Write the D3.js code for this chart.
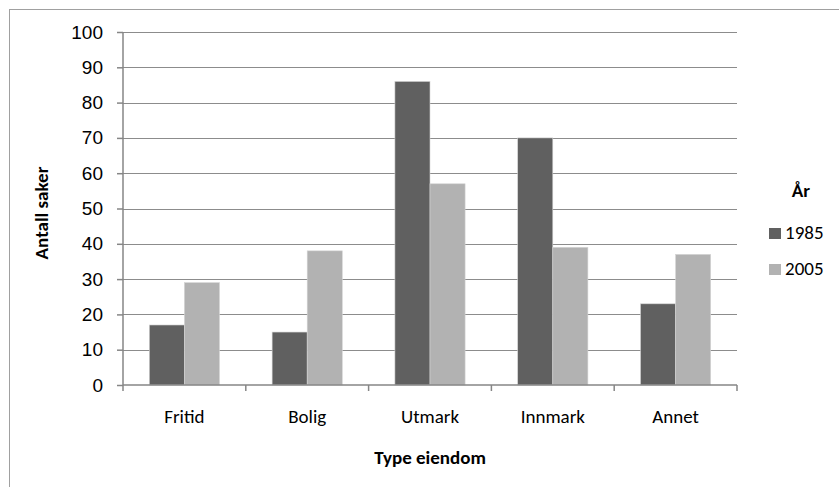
<!DOCTYPE html>
<html lang="no">
<head>
<meta charset="UTF-8">
<title>Antall saker etter type eiendom</title>
<script src="https://d3js.org/d3.v7.min.js"></script>
<style>
    body { margin: 0; background: #fff; }
    svg { display: block; font-family: Carlito, Calibri, "Open Sans", sans-serif; }
    .grid line { stroke: #8c8c8c; stroke-width: 1.2px; }
    .axis path, .axis line { stroke: #868686; stroke-width: 1.5px; }
    .axis text { font-size: 19px; fill: #000; }
    .title { font-size: 19px; font-weight: bold; }
</style>
</head>
<body>
<script>
var categories = ["Fritid", "Bolig", "Utmark", "Innmark", "Annet"];
var seriesNames = ["1985", "2005"];
var values1985 = [17, 15, 86, 70, 23];
var values2005 = [29, 38, 57, 39, 37];
var yTicks = [0, 10, 20, 30, 40, 50, 60, 70, 80, 90, 100];
var colors = ["#606060", "#b2b2b2"];

var W = 839, H = 487;
var plot = { left: 123, right: 737, top: 32, bottom: 385 };

var svg = d3.select("body").append("svg")
    .attr("width", W)
    .attr("height", H);

// chart border (runs off the right and bottom of the picture)
svg.append("rect")
    .attr("x", 9.5).attr("y", 9.5)
    .attr("width", W + 20).attr("height", H + 20)
    .attr("fill", "none")
    .attr("stroke", "#a0a0a0");

var x = d3.scaleBand()
    .domain(categories)
    .range([plot.left, plot.right])
    .paddingInner(0).paddingOuter(0);

var inner = d3.scaleBand()
    .domain(seriesNames)
    .range([0, x.bandwidth()])
    .paddingOuter(0.75).paddingInner(0);

var y = d3.scaleLinear()
    .domain([0, 100])
    .range([plot.bottom, plot.top]);

// gridlines
svg.append("g").attr("class", "grid")
    .selectAll("line")
    .data(yTicks.filter(function(d) { return d > 0; }))
    .enter().append("line")
    .attr("x1", plot.left).attr("x2", plot.right)
    .attr("y1", function(d) { return Math.round(y(d)) + 0.5; })
    .attr("y2", function(d) { return Math.round(y(d)) + 0.5; });

// bars
var rows = categories.map(function(c, i) {
    return { cat: c, vals: [values1985[i], values2005[i]] };
});

var groups = svg.append("g").selectAll("g")
    .data(rows)
    .enter().append("g")
    .attr("transform", function(d) { return "translate(" + x(d.cat) + ",0)"; });

groups.selectAll("rect")
    .data(function(d) {
        return d.vals.map(function(v, j) { return { s: seriesNames[j], v: v, j: j }; });
    })
    .enter().append("rect")
    .attr("x", function(d) { return inner(d.s); })
    .attr("width", inner.bandwidth())
    .attr("y", function(d) { return y(d.v); })
    .attr("height", function(d) { return plot.bottom - y(d.v); })
    .attr("fill", function(d) { return colors[d.j]; })
    .attr("stroke", "#d4d4d4")
    .attr("stroke-width", 0.6);

// y axis
var yAxis = d3.axisLeft(y)
    .tickValues(yTicks)
    .tickSize(6)
    .tickPadding(14);

svg.append("g")
    .attr("class", "axis")
    .attr("transform", "translate(" + plot.left + ",0)")
    .call(yAxis)
    .call(function(g) { g.select(".domain").attr("d", "M0," + plot.top + "V" + plot.bottom); });

// x axis with ticks at category boundaries
var xg = svg.append("g")
    .attr("class", "axis")
    .attr("transform", "translate(0," + plot.bottom + ")");

xg.append("line")
    .attr("x1", plot.left).attr("x2", plot.right)
    .attr("y1", 0).attr("y2", 0);

xg.selectAll(".tk")
    .data(categories.concat(["end"]))
    .enter().append("line")
    .attr("class", "tk")
    .attr("x1", function(d, i) { return plot.left + i * x.bandwidth(); })
    .attr("x2", function(d, i) { return plot.left + i * x.bandwidth(); })
    .attr("y1", 0).attr("y2", 6);

xg.selectAll("text")
    .data(categories)
    .enter().append("text")
    .attr("x", function(d) { return x(d) + x.bandwidth() / 2; })
    .attr("y", 38)
    .attr("text-anchor", "middle")
    .text(function(d) { return d; });

// axis titles
svg.append("text")
    .attr("class", "title")
    .attr("x", 430).attr("y", 464)
    .attr("text-anchor", "middle")
    .text("Type eiendom");

svg.append("text")
    .attr("class", "title")
    .attr("transform", "translate(48,213) rotate(-90)")
    .attr("text-anchor", "middle")
    .text("Antall saker");

// legend
svg.append("text")
    .attr("class", "title")
    .attr("x", 801).attr("y", 197)
    .attr("text-anchor", "middle")
    .text("År");

var leg = svg.append("g").selectAll("g")
    .data(seriesNames)
    .enter().append("g")
    .attr("transform", function(d, i) { return "translate(769," + (228 + i * 36) + ")"; });

leg.append("rect")
    .attr("width", 12).attr("height", 11)
    .attr("fill", function(d, i) { return colors[i]; });

leg.append("text")
    .attr("x", 16).attr("y", 11)
    .style("font-size", "19px")
    .text(function(d) { return d; });
</script>
</body>
</html>
